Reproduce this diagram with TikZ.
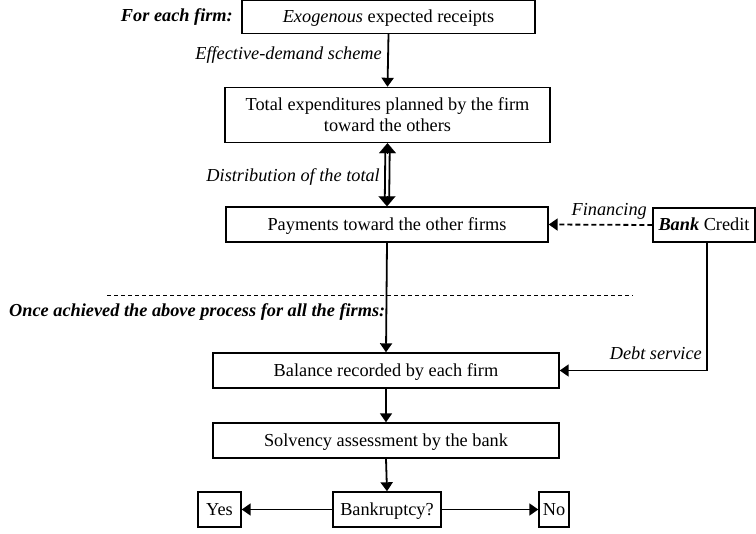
\documentclass[tikz,border=0pt]{standalone}
\usepackage{fontspec}
\setmainfont{Liberation Serif}
\usetikzlibrary{arrows.meta}
\begin{document}
\begin{tikzpicture}[x=1pt,y=-1pt,
  every node/.style={font=\fontsize{18.3}{21}\selectfont},
  flowbox/.style={draw,line width=1.4pt,inner sep=0pt,align=center},
  oneline/.style={flowbox,text height=12.5pt,text depth=1pt},
  lbl/.style={inner sep=0pt,font=\fontsize{18.3}{21}\selectfont\itshape},
  conn/.style={line width=1.8pt,-{Triangle[length=9pt,width=12pt]}},
  bighead/.style={line width=0.1pt,-{Triangle[length=10pt,width=17pt]}},
]
\useasboundingbox (0,0) rectangle (756,534);

% boxes of the flow
\node[oneline,minimum width=293pt,minimum height=33pt] (rec) at (388.5,17) {\textit{Exogenous} expected receipts};
\node[flowbox,minimum width=325pt,minimum height=55pt] (tot) at (387.5,115) {Total expenditures planned by the firm\\toward the others};
\node[oneline,minimum width=322pt,minimum height=35pt] (pay) at (387,224.5) {Payments toward the other firms};
\node[oneline,minimum width=102pt,minimum height=34pt] (bank) at (704,225) {\textbf{\textit{Bank}} Credit};
\node[oneline,minimum width=346pt,minimum height=35pt] (bal) at (386,370.5) {Balance recorded by each firm};
\node[oneline,minimum width=346pt,minimum height=35pt] (solv) at (386,440.5) {Solvency assessment by the bank};
\node[oneline,minimum width=108pt,minimum height=35pt] (bkr) at (387,509.5) {Bankruptcy?};
\node[oneline,minimum width=43pt,minimum height=35pt] (yes) at (219.5,509.5) {Yes};
\node[oneline,minimum width=30pt,minimum height=35pt] (no) at (554,509.5) {No};

% headings
\node[inner sep=0pt,anchor=east,font=\fontsize{18.3}{21}\selectfont\bfseries\itshape] (h1) at (233,17) {For each firm:};
\node[inner sep=0pt,anchor=west,font=\fontsize{18.3}{21}\selectfont\bfseries\itshape] (h2) at (9,312) {Once achieved the above process for all the firms:};

% separator
\coordinate (sepL) at (107,295);
\coordinate (sepR) at (633,295);
\draw[line width=0.6pt,dash pattern=on 4pt off 3pt] (sepL) -- (sepR);

% connectors
\draw[conn] (rec.south) -- (tot.north);
% two-way double link: two rails plus a head at each end
\draw[line width=1.8pt] ([xshift=-2.2pt,yshift=-8pt]tot.south) -- ([xshift=-2.2pt,yshift=8pt]pay.north);
\draw[line width=1.8pt] ([xshift=2.2pt,yshift=-8pt]tot.south) -- ([xshift=2.2pt,yshift=8pt]pay.north);
\draw[bighead] ([yshift=-10pt]tot.south) -- (tot.south);
\draw[bighead] ([yshift=10pt]pay.north) -- (pay.north);
\draw[conn] (pay.south) -- (bal.north);
\draw[conn,dash pattern=on 5pt off 3pt] (bank.west) -- (pay.east);
\draw[conn] ([xshift=3pt]bank.south) |- (bal.east);
\draw[conn] (bal.south) -- (solv.north);
\draw[conn] (solv.south) -- (bkr.north);
\draw[conn] (bkr.west) -- (yes.east);
\draw[conn] (bkr.east) -- (no.west);

% connector labels
\node[lbl,anchor=east] (l1) at (382,55) {Effective-demand scheme};
\node[lbl,anchor=east] (l2) at (380,177) {Distribution of the total};
\node[lbl,anchor=east] (l3) at (647,211) {Financing};
\node[lbl,anchor=east] (l4) at (702,353) {Debt service};
\end{tikzpicture}
\end{document}
